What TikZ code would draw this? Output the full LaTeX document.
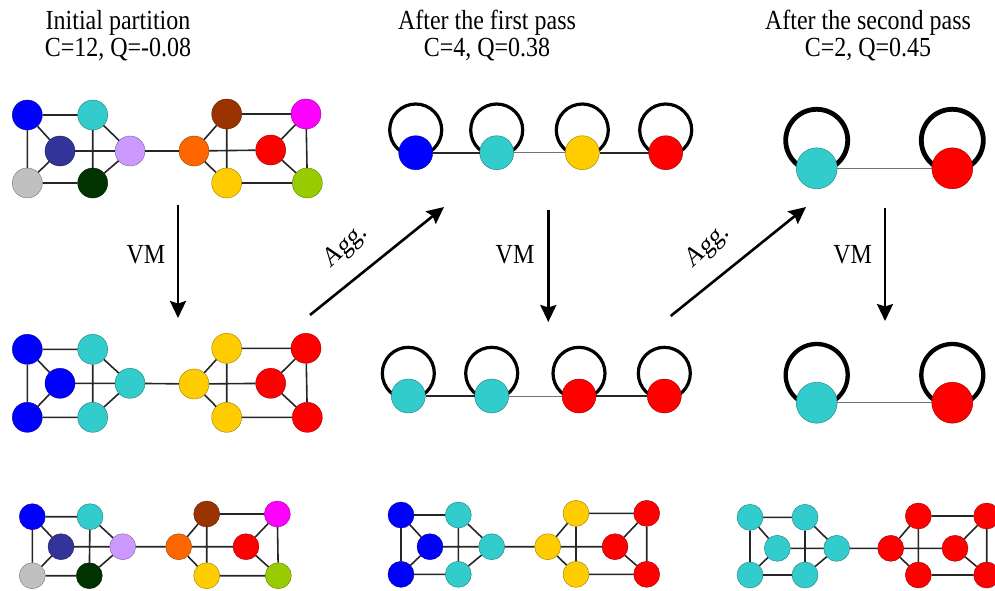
\documentclass[tikz,border=0pt]{standalone}
\usepackage{fontspec}
\setmainfont{Liberation Serif}
\usetikzlibrary{arrows.meta,backgrounds}

\definecolor{vblue}{HTML}{0000FF}
\definecolor{vcyan}{HTML}{33CCCC}
\definecolor{vnavy}{HTML}{333399}
\definecolor{vlilac}{HTML}{CC99FF}
\definecolor{vgray}{HTML}{C0C0C0}
\definecolor{vdgreen}{HTML}{003300}
\definecolor{vorange}{HTML}{FF6600}
\definecolor{vbrown}{HTML}{993300}
\definecolor{vmagenta}{HTML}{FF00FF}
\definecolor{vred}{HTML}{FF0000}
\definecolor{vyellow}{HTML}{FFCC00}
\definecolor{vlime}{HTML}{99CC00}

\begin{document}
\begin{tikzpicture}[x=1pt,y=-1pt,
    vx/.style={circle,inner sep=0pt,minimum size=30pt,fill=#1,draw=#1!60!black,line width=0.4pt},
    svx/.style={vx=#1,minimum size=26pt},
    avx/.style={vx=#1,minimum size=34pt},
    bvx/.style={vx=#1,minimum size=41pt},
    edge/.style={line width=1.6pt,black!85},
    thickedge/.style={line width=2pt,black!85},
    thinedge/.style={line width=0.9pt,black!55},
    selfloop/.style={line width=3.2pt},
    bigloop/.style={line width=4.8pt},
    flow/.style={line width=2.6pt,-{Stealth[length=17pt,width=16pt,inset=2.5pt]}},
    lbl/.style={font=\fontsize{24}{23.5}\selectfont,inner sep=0pt,yscale=1.15,transform shape},
    ttl/.style={lbl,anchor=north,align=center}]
    \useasboundingbox (0,0) rectangle (995,590);

    % titles
    \node[ttl] (t1) at (118,10) {Initial partition\\C=12, Q=-0.08};
    \node[ttl] (t2) at (487,10) {After the first pass\\C=4, Q=0.38};
    \node[ttl] (t3) at (868,10) {After the second pass\\C=2, Q=0.45};

    % initial partition
    \node[vx=vblue] (a1) at (27.3,115) {};
    \node[vx=vcyan] (a2) at (92.7,115) {};
    \node[vx=vnavy] (a3) at (60,151) {};
    \node[vx=vlilac] (a4) at (130,151) {};
    \node[vx=vgray] (a5) at (27.3,183) {};
    \node[vx=vdgreen] (a6) at (92.7,183) {};
    \node[vx=vorange] (a7) at (194,151) {};
    \node[vx=vbrown] (a8) at (226.7,114) {};
    \node[vx=vmagenta] (a9) at (306,114) {};
    \node[vx=vred] (a10) at (270.7,150) {};
    \node[vx=vyellow] (a11) at (226.7,183) {};
    \node[vx=vlime] (a12) at (307.3,183) {};
    \draw[edge] (a1)--(a2) (a1)--(a3) (a1)--(a5) (a3)--(a5) (a3)--(a4) (a2)--(a6) (a2)--(a4)
        (a6)--(a4) (a5)--(a6) (a4)--(a7) (a7)--(a8) (a7)--(a11) (a7)--(a10) (a8)--(a11)
        (a8)--(a9) (a9)--(a10) (a9)--(a12) (a10)--(a12) (a11)--(a12);

    % after vertex moving
    \node[vx=vblue] (b1) at (27.3,349.3) {};
    \node[vx=vcyan] (b2) at (92.7,349.3) {};
    \node[vx=vblue] (b3) at (60,383.3) {};
    \node[vx=vcyan] (b4) at (130,383.3) {};
    \node[vx=vblue] (b5) at (27.3,417.3) {};
    \node[vx=vcyan] (b6) at (92.7,417.3) {};
    \node[vx=vyellow] (b7) at (194,384) {};
    \node[vx=vyellow] (b8) at (226.7,348.3) {};
    \node[vx=vred] (b9) at (306,348.3) {};
    \node[vx=vred] (b10) at (270.7,383.3) {};
    \node[vx=vyellow] (b11) at (226.7,417.3) {};
    \node[vx=vred] (b12) at (307.3,417.3) {};
    \draw[edge] (b1)--(b2) (b1)--(b3) (b1)--(b5) (b3)--(b5) (b3)--(b4) (b2)--(b6) (b2)--(b4)
        (b6)--(b4) (b5)--(b6) (b4)--(b7) (b7)--(b8) (b7)--(b11) (b7)--(b10) (b8)--(b11)
        (b8)--(b9) (b9)--(b10) (b9)--(b12) (b10)--(b12) (b11)--(b12);

    % bottom row
    \node[svx=vblue] (c1) at (32.3,516.7) {};
    \node[svx=vcyan] (c2) at (90,516.7) {};
    \node[svx=vnavy] (c3) at (61,546.7) {};
    \node[svx=vlilac] (c4) at (122.7,546.7) {};
    \node[svx=vgray] (c5) at (32.3,575.7) {};
    \node[svx=vdgreen] (c6) at (89.3,575.7) {};
    \node[svx=vorange] (c7) at (178.7,546.7) {};
    \node[svx=vbrown] (c8) at (206.7,514) {};
    \node[svx=vmagenta] (c9) at (277.3,514) {};
    \node[svx=vred] (c10) at (246,546.7) {};
    \node[svx=vyellow] (c11) at (206.7,575.7) {};
    \node[svx=vlime] (c12) at (278.3,575.7) {};
    \draw[edge] (c1)--(c2) (c1)--(c3) (c1)--(c5) (c3)--(c5) (c3)--(c4) (c2)--(c6) (c2)--(c4)
        (c6)--(c4) (c5)--(c6) (c4)--(c7) (c7)--(c8) (c7)--(c11) (c7)--(c10) (c8)--(c11)
        (c8)--(c9) (c9)--(c10) (c9)--(c12) (c10)--(c12) (c11)--(c12);

    \node[svx=vblue] (d1) at (401,515) {};
    \node[svx=vcyan] (d2) at (458.3,515) {};
    \node[svx=vblue] (d3) at (430,546.7) {};
    \node[svx=vcyan] (d4) at (491.7,546.7) {};
    \node[svx=vblue] (d5) at (401,574.3) {};
    \node[svx=vcyan] (d6) at (458.3,574.3) {};
    \node[svx=vyellow] (d7) at (547.7,546.7) {};
    \node[svx=vyellow] (d8) at (576,513.3) {};
    \node[svx=vred] (d9) at (646.7,513.3) {};
    \node[svx=vred] (d10) at (615,546.7) {};
    \node[svx=vyellow] (d11) at (576,574.3) {};
    \node[svx=vred] (d12) at (646.7,574.3) {};
    \draw[edge] (d1)--(d2) (d1)--(d3) (d1)--(d5) (d3)--(d5) (d3)--(d4) (d2)--(d6) (d2)--(d4)
        (d6)--(d4) (d5)--(d6) (d4)--(d7) (d7)--(d8) (d7)--(d11) (d7)--(d10) (d8)--(d11)
        (d8)--(d9) (d9)--(d10) (d9)--(d12) (d10)--(d12) (d11)--(d12);

    \node[svx=vcyan] (e1) at (750,517.3) {};
    \node[svx=vcyan] (e2) at (805,517.3) {};
    \node[svx=vcyan] (e3) at (777.3,548.3) {};
    \node[svx=vcyan] (e4) at (836.7,548.3) {};
    \node[svx=vcyan] (e5) at (750,575) {};
    \node[svx=vcyan] (e6) at (805,575) {};
    \node[svx=vred] (e7) at (890.7,548.3) {};
    \node[svx=vred] (e8) at (918.3,516) {};
    \node[svx=vred] (e9) at (986.7,516) {};
    \node[svx=vred] (e10) at (955,548.3) {};
    \node[svx=vred] (e11) at (918.3,575) {};
    \node[svx=vred] (e12) at (986.7,575) {};
    \draw[edge] (e1)--(e2) (e1)--(e3) (e1)--(e5) (e3)--(e5) (e3)--(e4) (e2)--(e6) (e2)--(e4)
        (e6)--(e4) (e5)--(e6) (e4)--(e7) (e7)--(e8) (e7)--(e11) (e7)--(e10) (e8)--(e11)
        (e8)--(e9) (e9)--(e10) (e9)--(e12) (e10)--(e12) (e11)--(e12);

    % aggregated graphs
    \node[avx=vblue] (f1) at (415.7,152.7) {};
    \node[avx=vcyan] (f2) at (496.7,152.7) {};
    \node[avx=vyellow] (f3) at (582.3,152.7) {};
    \node[avx=vred] (f4) at (665.7,152.7) {};
    \draw[thickedge] (f1)--(f2) (f3)--(f4);
    \draw[thinedge] (f2)--(f3);

    \node[avx=vcyan] (h1) at (408.3,396) {};
    \node[avx=vcyan] (h2) at (491.7,396) {};
    \node[avx=vred] (h3) at (579,396) {};
    \node[avx=vred] (h4) at (664.3,396) {};
    \draw[thickedge] (h1)--(h2) (h3)--(h4);
    \draw[thinedge] (h2)--(h3);

    \node[bvx=vcyan] (g1) at (816.7,168.3) {};
    \node[bvx=vred] (g2) at (952.3,168.3) {};
    \draw[thinedge] (g1)--(g2);

    \node[bvx=vcyan] (k1) at (816.7,402.7) {};
    \node[bvx=vred] (k2) at (952.3,402.7) {};
    \draw[thinedge] (k1)--(k2);

    % self loops, under the nodes
    \begin{scope}[on background layer]
    \draw[selfloop] ([yshift=22.7pt]f1.center) circle (26pt);
    \draw[selfloop] ([yshift=22.7pt]f2.center) circle (26pt);
    \draw[selfloop] ([yshift=22.7pt]f3.center) circle (26pt);
    \draw[selfloop] ([yshift=22.7pt]f4.center) circle (26pt);
    \draw[selfloop] ([yshift=22.7pt]h1.center) circle (26pt);
    \draw[selfloop] ([yshift=22.7pt]h2.center) circle (26pt);
    \draw[selfloop] ([yshift=22.7pt]h3.center) circle (26pt);
    \draw[selfloop] ([yshift=22.7pt]h4.center) circle (26pt);
    \draw[bigloop] ([yshift=28pt]g1.center) circle (31pt);
    \draw[bigloop] ([yshift=28pt]g2.center) circle (31pt);
    \draw[bigloop,line width=4.3pt] ([yshift=27.7pt]k1.center) circle (31pt);
    \draw[bigloop,line width=4.3pt] ([yshift=27.7pt]k2.center) circle (31pt);
    \end{scope}

    % steps
    \coordinate (vm1s) at (178,205);
    \coordinate (vm1e) at (178,318);
    \coordinate (ag1s) at (310,315);
    \coordinate (ag1e) at (444,207);
    \coordinate (vm2s) at (548.3,210);
    \coordinate (vm2e) at (548.3,322);
    \coordinate (ag2s) at (670.7,316);
    \coordinate (ag2e) at (806,207);
    \coordinate (vm3s) at (885,208.3);
    \coordinate (vm3e) at (885,321);
    \draw[flow] (vm1s)--(vm1e);
    \draw[flow] (ag1s)--(ag1e);
    \draw[flow] (vm2s)--(vm2e);
    \draw[flow] (ag2s)--(ag2e);
    \draw[flow] (vm3s)--(vm3e);
    \node[lbl] (vm1) at (146,255) {VM};
    \node[lbl] (vm2) at (515,255) {VM};
    \node[lbl] (vm3) at (852.7,255) {VM};
    \node[lbl,rotate=39] (ag1) at (346,247) {Agg.};
    \node[lbl,rotate=39] (ag2) at (708,247) {Agg.};
\end{tikzpicture}
\end{document}
